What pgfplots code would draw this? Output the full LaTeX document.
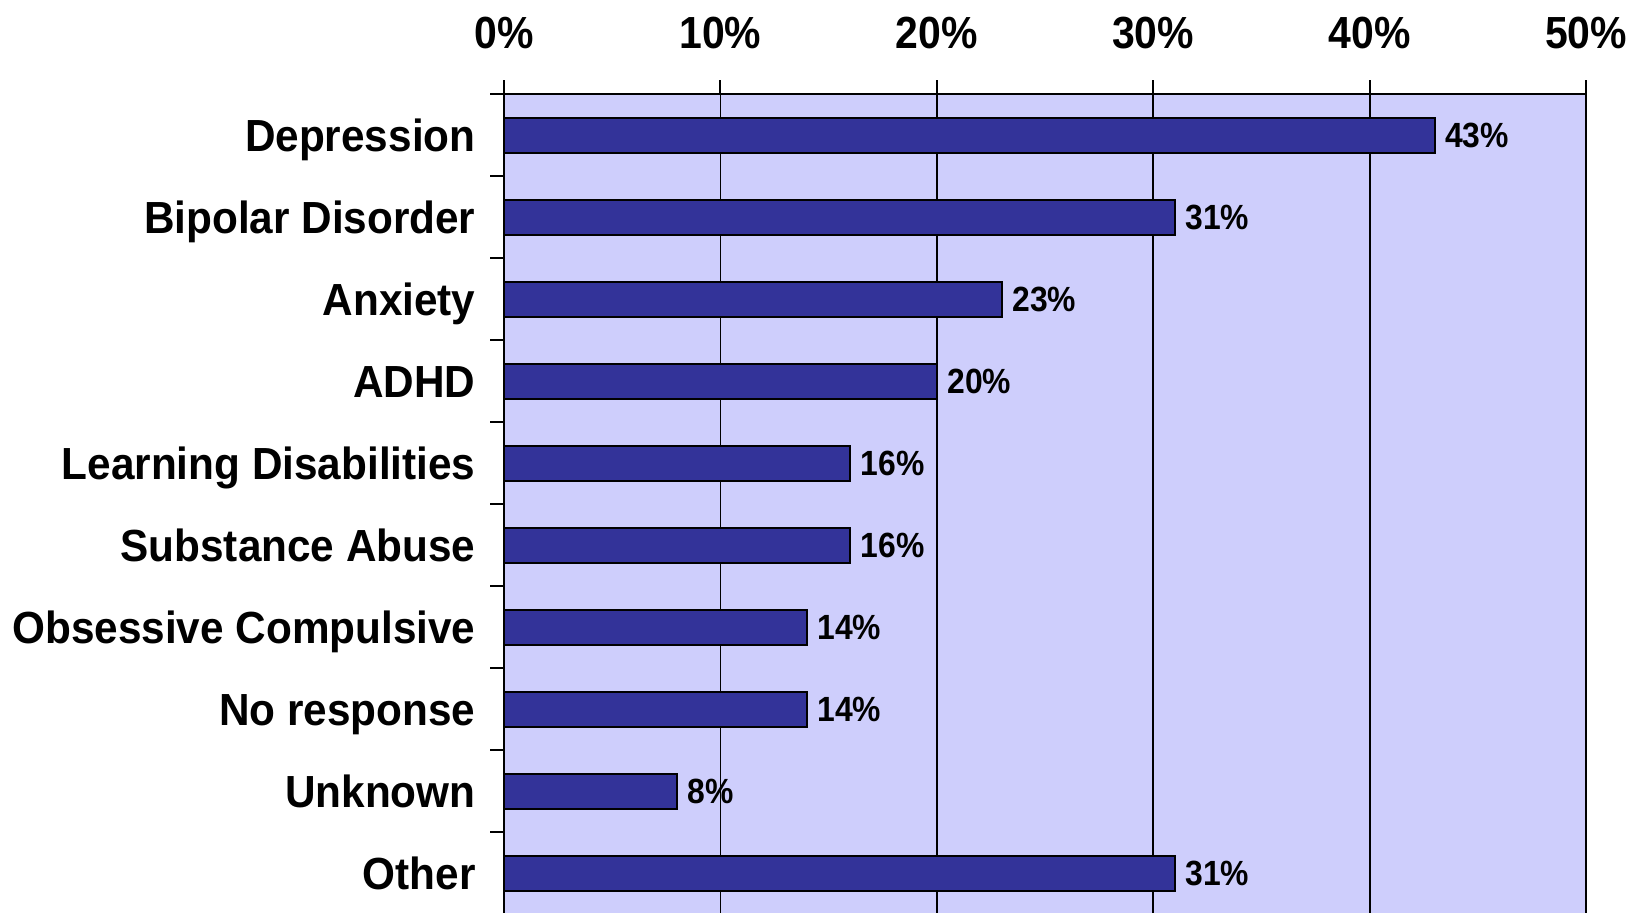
\documentclass[border=0pt]{standalone}
\usepackage{pgfplots}
\pgfplotsset{compat=1.18}
\usepackage{fontspec}
\setmainfont{Liberation Sans}[FakeStretch=0.91]
\newfontfamily\catfont{Liberation Sans}[FakeStretch=0.94]

\definecolor{plotbg}{HTML}{CECEFC}
\definecolor{barblue}{HTML}{333399}

\begin{document}
\begin{tikzpicture}
\begin{axis}[
    name=main,
    scale only axis,
    width=270.5pt, height=205pt,
    xbar,
    bar width=8.75pt,
    xmin=0, xmax=50,
    ymin=-0.5, ymax=9.5,
    y dir=reverse,
    axis background/.style={fill=plotbg},
    axis line style={line width=0.5pt},
    xtick={0,10,...,50},
    xticklabels={0\%,10\%,20\%,30\%,40\%,50\%},
    xtick pos=top, xticklabel pos=top,
    xmajorgrids,
    grid style={black, line width=0.45pt},
    tick align=outside,
    major tick length=3.5pt,
    tick style={black, line width=0.5pt},
    xticklabel style={font=\fontsize{11.25}{13}\selectfont\bfseries, yshift=4.3pt},
    ytick={-0.5,0.5,...,8.5},
    yticklabels={},
    ytick pos=left,
    extra y ticks={0,1,...,9},
    extra y tick labels={Depression,Bipolar Disorder,Anxiety,ADHD,Learning Disabilities,Substance Abuse,Obsessive Compulsive,No response,Unknown,Other},
    extra y tick style={major tick length=0pt, grid=none,
        yticklabel style={font=\catfont\fontsize{11.25}{13}\selectfont\bfseries,
            text height=0.73em, text depth=0.21em, xshift=-3.6pt, yshift=-1.4pt}},
    /pgf/number format/assume math mode=true,
    nodes near coords={\pgfmathprintnumber{\pgfplotspointmeta}\%},
    nodes near coords style={font=\fontsize{8.75}{10}\selectfont\bfseries, anchor=west, inner sep=2.4pt},
]
\addplot[fill=barblue, draw=black, line width=0.5pt] coordinates {
    (43,0) (31,1) (23,2) (20,3) (16,4) (16,5) (14,6) (14,7) (8,8) (31,9)
};
\end{axis}
\pgfresetboundingbox
\path[use as bounding box] ([xshift=-126pt,yshift=23.5pt]main.north west) rectangle ([xshift=16pt,yshift=0.5pt]main.south east);
\end{tikzpicture}
\end{document}
